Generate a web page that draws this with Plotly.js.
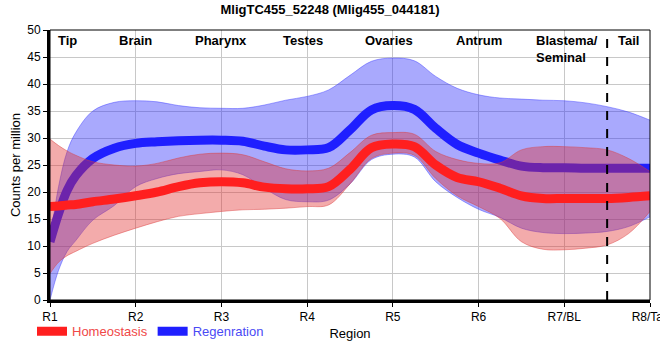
<!DOCTYPE html>
<html>
<head>
<meta charset="utf-8">
<script src="https://cdn.plot.ly/plotly-3.0.1.min.js"></script>
<style>html,body{margin:0;padding:0;background:#fff;}#chart{width:660px;height:360px;}</style>
</head>
<body>
<div id="chart"></div>
<script>
// Positions along the body (R1 = 0 ... R8 = 7)
const xPos = [0,0.1,0.2,0.3,0.5,0.75,1,1.25,1.5,1.75,2,2.25,2.5,2.75,3,3.25,3.5,3.75,4,4.25,4.5,4.75,5,5.25,5.5,5.75,6,6.25,6.5,6.75,7];

const homeoMean = [17.3,17.4,17.6,17.7,18.2,18.7,19.3,20.0,21.0,21.7,21.9,21.7,20.9,20.6,20.6,21.0,24.2,28.2,28.9,28.4,25.0,22.7,21.9,20.7,19.3,18.8,18.8,18.8,18.8,19.0,19.3];
const homeoHigh = [29.8,28.6,27.6,26.8,25.6,25.0,24.8,25.3,26.3,27.0,27.2,26.9,25.6,24.3,23.9,24.4,27.3,30.5,31.0,30.7,27.5,26.0,25.3,25.4,27.8,28.4,28.4,28.2,27.8,26.2,23.8];
const homeoLow  = [4.9,7.0,8.2,9.0,10.5,12.0,13.3,14.5,15.5,16.0,16.4,16.7,16.8,17.0,17.3,17.6,21.5,26.2,27.2,26.8,22.5,19.3,17.3,15.1,10.8,9.4,9.3,9.6,10.2,12.3,16.4];

const regenMean = [10.8,16.0,20.3,23.0,26.2,28.1,29.0,29.3,29.5,29.6,29.6,29.4,28.5,27.8,27.8,28.2,31.5,35.2,36.0,35.3,31.8,28.8,27.2,25.9,24.8,24.5,24.5,24.4,24.4,24.4,24.4];
const regenHigh = [11,21,27.5,31,35.0,36.6,36.9,36.7,36.0,35.6,35.5,35.5,36.1,37.0,37.7,38.9,41.6,44.2,44.8,44.3,41.4,39.2,38.0,37.4,37.2,37.0,36.9,36.5,35.8,34.8,33.3];
const regenLow  = [0,5.5,9.0,11.0,14.8,17.5,21.0,22.5,23.4,23.8,24.1,23.2,20.7,18.6,18.2,18.5,21.5,26.0,27.0,26.5,21.9,19.0,16.8,15.3,13.3,12.5,12.3,12.4,12.7,13.6,15.4];

const tickPos = [0,1,2,3,4,5,6,7];
const tickLabels = ['R1','R2','R3','R4','R5','R6','R7/BL','R8/Tail'];
const regionNames = ['Tip','Brain','Pharynx','Testes','Ovaries','Antrum','Blastema/<br>Seminal','Tail'];
const regionNameX = [0.2,1,2,2.95,3.95,5,6.03,6.75];
const dividerX = 6.5;

const seriesNames = ['Homeostasis','Regenration'];
const FONT = 'Liberation Sans, Arial, sans-serif';

const blueFill = 'rgba(40,40,250,0.4)';
const redFill = 'rgba(225,45,45,0.4)';

const traces = [
  {x: xPos, y: regenLow, mode:'lines', line:{shape:'spline', color:'rgba(60,60,255,0.45)', width:1}, showlegend:false, hoverinfo:'skip'},
  {x: xPos, y: regenHigh, mode:'lines', fill:'tonexty', fillcolor: blueFill, line:{shape:'spline', color:'rgba(60,60,255,0.45)', width:1}, showlegend:false, hoverinfo:'skip'},
  {x: xPos, y: regenMean, mode:'lines', name:'<span style="color:#4a4af5">'+seriesNames[1]+'</span>', legendrank:2, line:{shape:'spline', color:'#1f1fff', width:9}},
  {x: xPos, y: homeoLow, mode:'lines', line:{shape:'spline', color:'rgba(220,60,60,0.45)', width:1}, showlegend:false, hoverinfo:'skip'},
  {x: xPos, y: homeoHigh, mode:'lines', fill:'tonexty', fillcolor: redFill, line:{shape:'spline', color:'rgba(220,60,60,0.45)', width:1}, showlegend:false, hoverinfo:'skip'},
  {x: xPos, y: homeoMean, mode:'lines', name:'<span style="color:#f04848">'+seriesNames[0]+'</span>', legendrank:1, line:{shape:'spline', color:'#ff1f1f', width:9}}
];

const annotations = regionNames.map((t,i)=>({
  x: regionNameX[i], xref:'x', y:1, yref:'paper', yanchor:'top', yshift:-1,
  text:'<b>'+t+'</b>', showarrow:false, align:'left',
  font:{family:FONT, size:13, color:'#000'}
}));

const layout = {
  width:660, height:360,
  margin:{l:50, r:10, t:30, b:60},
  paper_bgcolor:'#fff', plot_bgcolor:'#fff',
  font:{family:FONT, size:12, color:'#000'},
  title:{text:'<b>MligTC455_52248 (Mlig455_044181)</b>', x:0.5, xanchor:'center', y:0.975, yanchor:'middle', font:{family:FONT, size:13, color:'#000'}},
  xaxis:{range:[0,7], tickvals:tickPos, ticktext:tickLabels, showgrid:true, gridcolor:'#c8c8c8', gridwidth:1,
    showline:true, linecolor:'#000', linewidth:3, ticks:'outside', ticklen:4, tickcolor:'#000', zeroline:false,
    ticklabeloverflow:'allow', automargin:false,
    tickfont:{family:FONT, size:12, color:'#000'},
    title:{text:'Region', font:{family:FONT, size:13, color:'#000'}, standoff:6}},
  yaxis:{range:[0,50], dtick:5, showgrid:true, gridcolor:'#c8c8c8', gridwidth:1,
    showline:true, linecolor:'#000', linewidth:3, ticks:'outside', ticklen:4, tickcolor:'#000', zeroline:false,
    tickfont:{family:FONT, size:12, color:'#000'}, automargin:false,
    title:{text:'Counts per million', font:{family:FONT, size:13, color:'#000'}, standoff:4}},
  legend:{orientation:'h', x:-0.03, xanchor:'left', y:-0.06, yanchor:'top', font:{family:FONT, size:13}, bgcolor:'rgba(0,0,0,0)', traceorder:'normal'},
  shapes:[
    {type:'rect', xref:'paper', yref:'paper', x0:0, x1:1, y0:0, y1:1, line:{color:'#000', width:1}, fillcolor:'rgba(0,0,0,0)', layer:'above'},
    {type:'line', xref:'x', yref:'paper', x0:dividerX, x1:dividerX, y0:0, y1:1, line:{color:'#000', width:2, dash:'dash'}, layer:'above'}
  ],
  annotations: annotations,
  showlegend:true
};

Plotly.newPlot('chart', traces, layout, {displayModeBar:false, staticPlot:true});
</script>
</body>
</html>
